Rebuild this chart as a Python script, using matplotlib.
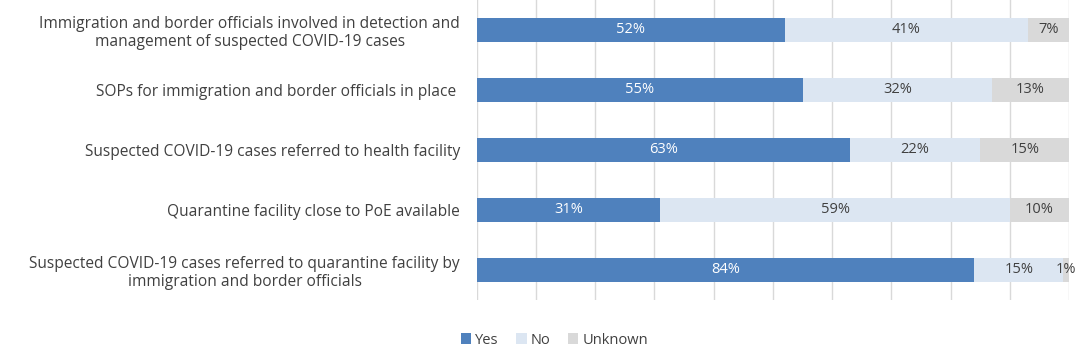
import matplotlib
matplotlib.use('Agg')
import matplotlib.pyplot as plt
import numpy as np

categories = [
    'Immigration and border officials involved in detection and\nmanagement of suspected COVID-19 cases',
    'SOPs for immigration and border officials in place ',
    'Suspected COVID-19 cases referred to health facility',
    'Quarantine facility close to PoE available',
    'Suspected COVID-19 cases referred to quarantine facility by\nimmigration and border officials',
]
yes = [52, 55, 63, 31, 84]
no = [41, 32, 22, 59, 15]
unknown = [7, 13, 15, 10, 1]

series = [('Yes', yes, '#4F81BD', 'white'),
          ('No', no, '#DCE6F2', '#404040'),
          ('Unknown', unknown, '#D9D9D9', '#404040')]

plt.rcParams['font.family'] = ['Open Sans', 'DejaVu Sans']

fig = plt.figure(figsize=(10.81, 3.52), dpi=100)
ax = fig.add_axes([0.441, 0.148, 0.548, 0.852])

y = np.arange(len(categories))
left = np.zeros(len(categories))
for name, vals, col, tcol in series:
    vals = np.array(vals, dtype=float)
    ax.barh(y, vals, left=left, height=0.4, color=col, label=name, zorder=2)
    for yi, l, v in zip(y, left, vals):
        ax.text(l + v / 2, yi, '%d%%' % v, ha='center', va='center',
                color=tcol, fontsize=10.5, zorder=3)
    left = left + vals

ax.set_xlim(0, 100)
ax.set_ylim(4.5, -0.5)
ax.set_xticks(np.arange(0, 101, 10))
ax.set_xticklabels([])
ax.tick_params(axis='x', length=0)
ax.tick_params(axis='y', length=0, pad=12)
ax.set_yticks(y)
ax.set_yticklabels(categories, fontsize=11.2, color='#404040')
for lab in ax.get_yticklabels():
    lab.set_multialignment('center')
ax.grid(axis='x', color='#D9D9D9', linewidth=1, zorder=0)
for s in ax.spines.values():
    s.set_visible(False)

fig.legend(loc='lower center', bbox_to_anchor=(0.513, -0.025), ncol=3, frameon=False,
           fontsize=10.5, handlelength=0.7, handleheight=0.7, handletextpad=0.3,
           columnspacing=1.2, labelcolor='#404040')

fig.savefig('out.png', dpi=100)
